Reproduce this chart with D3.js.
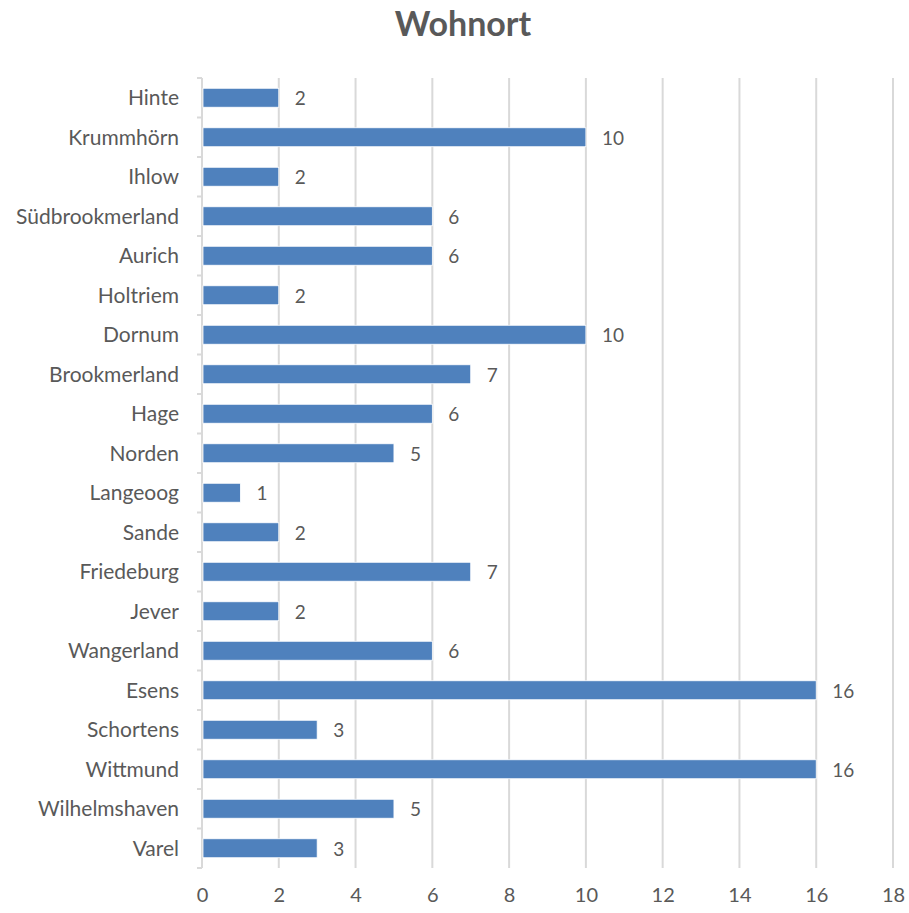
<!DOCTYPE html>
<html>
<head>
<meta charset="utf-8">
<script src="https://cdn.jsdelivr.net/npm/d3@7"></script>
<style>
  body { margin: 0; background: #fff; }
  text { font-family: Lato, "Open Sans", sans-serif; fill: #595959; }
</style>
</head>
<body>
<div class="wohnort-chart"></div>
<script>
// Wohnort
var orte = ["Hinte", "Krummhörn", "Ihlow", "Südbrookmerland", "Aurich", "Holtriem",
    "Dornum", "Brookmerland", "Hage", "Norden", "Langeoog", "Sande", "Friedeburg",
    "Jever", "Wangerland", "Esens", "Schortens", "Wittmund", "Wilhelmshaven", "Varel"];
var anzahl = [2, 10, 2, 6, 6, 2, 10, 7, 6, 5, 1, 2, 7, 2, 6, 16, 3, 16, 5, 3];
var xTicks = [0, 2, 4, 6, 8, 10, 12, 14, 16, 18];

var daten = orte.map(function(o, i) { return { ort: o, wert: anzahl[i] }; });

var margin = { top: 78, right: 16, bottom: 45, left: 202 },
    width = 909 - margin.left - margin.right,
    height = 913 - margin.top - margin.bottom;

var svgRoot = d3.select(".wohnort-chart")
    .append("svg")
    .attr("width", 909)
    .attr("height", 913);

svgRoot.append("text")
    .attr("x", 463)
    .attr("y", 36)
    .attr("text-anchor", "middle")
    .style("font-size", "34px")
    .style("font-weight", "bold")
    .text("Wohnort");

var svg = svgRoot.append("g")
    .attr("transform", "translate(" + margin.left + "," + margin.top + ")");

var x = d3.scaleLinear()
    .domain([0, 18])
    .range([0, 691]);

var y = d3.scaleBand()
    .domain(orte)
    .range([0, 790])
    .paddingInner(0.52)
    .paddingOuter(0.26);

// gridlines
svg.append("g")
    .selectAll("line")
    .data(xTicks.slice(1))
    .enter().append("line")
    .attr("x1", function(d) { return x(d); })
    .attr("x2", function(d) { return x(d); })
    .attr("y1", 0)
    .attr("y2", 790)
    .attr("stroke", "#d9d9d9")
    .attr("stroke-width", 2);

// x axis labels
var xAxis = d3.axisBottom(x)
    .tickValues(xTicks)
    .tickSize(0)
    .tickPadding(20)
    .tickFormat(d3.format("d"));

svg.append("g")
    .attr("transform", "translate(0," + 790 + ")")
    .call(xAxis)
    .call(function(g) { g.select(".domain").remove(); })
    .selectAll("text")
    .style("font-size", "20px")
    .style("fill", "#595959");

// y axis line + band ticks
svg.append("line")
    .attr("x1", 0).attr("x2", 0)
    .attr("y1", 0).attr("y2", 790)
    .attr("stroke", "#d9d9d9")
    .attr("stroke-width", 2);

svg.append("g")
    .selectAll("line")
    .data(d3.range(orte.length + 1))
    .enter().append("line")
    .attr("x1", -5).attr("x2", 0)
    .attr("y1", function(i) { return i * 790 / orte.length; })
    .attr("y2", function(i) { return i * 790 / orte.length; })
    .attr("stroke", "#d9d9d9")
    .attr("stroke-width", 2);

svg.append("g")
    .selectAll("text")
    .data(orte)
    .enter().append("text")
    .attr("x", -23)
    .attr("y", function(d) { return y(d) + y.bandwidth() / 2; })
    .attr("dy", "0.35em")
    .attr("text-anchor", "end")
    .style("font-size", "21px")
    .text(function(d) { return d; });

// bars
svg.append("g")
    .selectAll("rect")
    .data(daten)
    .enter().append("rect")
    .attr("x", 1)
    .attr("y", function(d) { return y(d.ort); })
    .attr("width", function(d) { return x(d.wert) - 1; })
    .attr("height", y.bandwidth())
    .attr("fill", "#4f81bd")
    .attr("stroke", "#ffffff")
    .attr("stroke-width", 0.8);

// value labels
svg.append("g")
    .selectAll("text")
    .data(daten)
    .enter().append("text")
    .attr("x", function(d) { return x(d.wert) + 16; })
    .attr("y", function(d) { return y(d.ort) + y.bandwidth() / 2; })
    .attr("dy", "0.4em")
    .style("font-size", "19px")
    .text(function(d) { return d.wert; });
</script>
</body>
</html>
